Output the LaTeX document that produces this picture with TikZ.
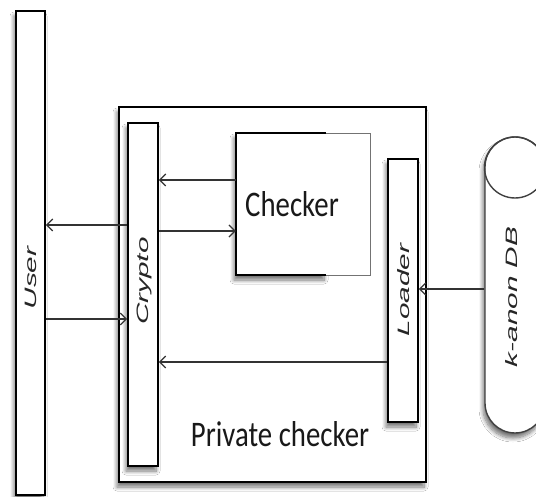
\documentclass[tikz,border=0pt]{standalone}
\usepackage{fontspec}
\usepackage{graphicx}
\usetikzlibrary{arrows.meta,shadows.blur}
\newfontfamily\barfont{Liberation Sans}
\newfontfamily\boxfont{Carlito}
\tikzset{
  softshadow/.style={blur shadow={shadow xshift=-2pt, shadow yshift=-5pt, shadow blur radius=4pt, shadow blur steps=8, shadow opacity=55}},
  bar/.style={draw=black, line width=1.8pt, fill=white, inner sep=0pt, softshadow},
  barlabel/.style={rotate=90, inner sep=0pt, font=\barfont\itshape\fontsize{16.5}{18}\selectfont, text=black!85},
  boxlabel/.style={inner sep=0pt, font=\boxfont\fontsize{36}{40}\selectfont, text=black!90},
  msg/.style={draw=black!80, line width=1.4pt, -{Straight Barb[length=6pt,width=12pt,line width=1.2pt]}},
}
\newcommand{\stretchtext}[1]{\scalebox{1.8}[1]{#1}}
\newcommand{\narrowtext}[1]{\scalebox{0.8}[1]{#1}}
\begin{document}
\begin{tikzpicture}[x=1pt,y=-1pt]
  \useasboundingbox (0,0) rectangle (536,497);
  \clip (0,0) rectangle (536,497);
  \fill[white] (0,0) rectangle (536,497);

  % user lifeline
  \node[bar, minimum width=29pt, minimum height=484pt] (user) at (30.5,253) {};
  \node[barlabel] (userlbl) at (31,278) {\stretchtext{User}};

  % private checker enclosure
  \node[bar, line width=1.6pt, minimum width=307pt, minimum height=375pt] (pc) at (272.5,294.5) {};
  \node[boxlabel] (pclbl) at (280,434) {\narrowtext{Private checker}};

  % crypto module
  \node[bar, minimum width=30pt, minimum height=343pt] (crypto) at (143,294.5) {};
  \node[barlabel] (cryptolbl) at (144,281) {\stretchtext{Crypto}};

  % checker module: heavy left part with shadow, light right part
  \node[inner sep=0pt, minimum width=90pt, minimum height=142pt, fill=white, softshadow] (checkershade) at (281,204) {};
  \node[inner sep=0pt, minimum width=134pt, minimum height=142pt, fill=white] (checker) at (303,204) {};
  \draw[black!55, line width=0.9pt] (326,133) -- (370,133) -- (370,275) -- (326,275);
  \draw[black, line width=1.8pt] (326,133) -- (236,133) -- (236,275) -- (326,275);
  \node[boxlabel] (checkerlbl) at (292,204) {\narrowtext{Checker}};

  % loader module
  \node[bar, minimum width=30pt, minimum height=263pt] (loader) at (403,290.5) {};
  \node[barlabel] (loaderlbl) at (404,290) {\stretchtext{Loader}};

  % k-anon database
  \node[draw=black!75, line width=1.4pt, fill=white, rounded corners=30pt, inner sep=0pt,
        minimum width=60pt, minimum height=296pt, softshadow] (db) at (515,285) {};
  \node[draw=black!75, line width=1.4pt, circle, inner sep=0pt, minimum size=61pt] (dbtop) at (515,167.5) {};
  \node[barlabel] (dblbl) at (512,297) {\stretchtext{k-anon DB}};

  % messages
  \draw[msg] (checker.west |- 0,180) -- (crypto.east |- 0,180);
  \draw[msg] (crypto.east |- 0,231) -- (checker.west |- 0,231);
  \draw[msg] (crypto.west |- 0,225) -- (user.east |- 0,225);
  \draw[msg] (user.east |- 0,319) -- (crypto.west |- 0,319);
  \draw[msg] (loader.west |- 0,362) -- (crypto.east |- 0,362);
  \draw[msg] (db.west |- 0,289) -- (loader.east |- 0,289);
\end{tikzpicture}
\end{document}
